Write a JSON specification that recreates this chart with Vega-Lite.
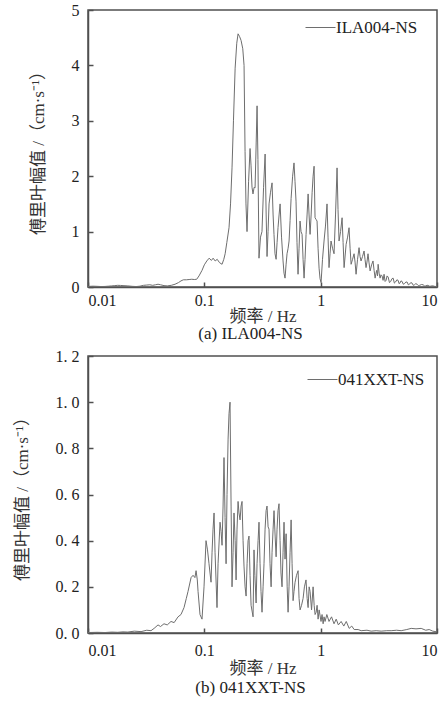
{
  "$schema": "https://vega.github.io/schema/vega-lite/v6.json",
  "padding": {"left": 12, "right": 0, "top": 1, "bottom": 2},
  "spacing": 4,
  "resolve": {"scale": {"color": "independent"}, "legend": {"color": "independent"}},
  "config": {
    "font": "'Liberation Serif', 'Times New Roman', Times, serif",
    "view": {"stroke": "#505050", "strokeWidth": 1.5},
    "axis": {"grid": false, "domainColor": "#505050", "domainWidth": 1.5, "tickColor": "#505050", "tickSize": -5, "tickWidth": 1.5, "labelPadding": 14, "labelFont": "'Liberation Serif', 'Times New Roman', Times, serif", "labelFontSize": 16, "labelColor": "#222", "titleFont": "'Liberation Serif', 'Noto Sans CJK SC', serif", "titleFontSize": 17, "titleFontWeight": "normal", "titleColor": "#333"},
    "axisX": {"labelPadding": 10},
    "legend": {"symbolType": "stroke", "symbolSize": 900, "symbolStrokeWidth": 1, "labelFontSize": 17, "labelFont": "'Liberation Serif', 'Times New Roman', Times, serif", "labelColor": "#222", "padding": 0, "labelOffset": 0}
  },
  "datasets": {
    "a": [
      {"f":0.01,"amp":0.01},{"f":0.011,"amp":0.015},{"f":0.012,"amp":0.012},{"f":0.013,"amp":0.008},{"f":0.014,"amp":0.01},{"f":0.015,"amp":0.015},{"f":0.016,"amp":0.02},{"f":0.017,"amp":0.025},{"f":0.018,"amp":0.03},{"f":0.019,"amp":0.028},{"f":0.02,"amp":0.025},{"f":0.022,"amp":0.02},{"f":0.024,"amp":0.012},{"f":0.026,"amp":0.008},{"f":0.028,"amp":0.015},{"f":0.03,"amp":0.03},{"f":0.032,"amp":0.035},{"f":0.034,"amp":0.04},{"f":0.036,"amp":0.03},{"f":0.038,"amp":0.04},{"f":0.04,"amp":0.05},{"f":0.042,"amp":0.04},{"f":0.045,"amp":0.025},{"f":0.048,"amp":0.02},{"f":0.052,"amp":0.03},{"f":0.056,"amp":0.05},{"f":0.06,"amp":0.08},{"f":0.063,"amp":0.11},{"f":0.066,"amp":0.13},{"f":0.07,"amp":0.13},{"f":0.074,"amp":0.135},{"f":0.078,"amp":0.14},{"f":0.082,"amp":0.135},{"f":0.086,"amp":0.14},{"f":0.09,"amp":0.2},{"f":0.0955,"amp":0.3},{"f":0.1,"amp":0.4},{"f":0.105,"amp":0.47},{"f":0.11,"amp":0.52},{"f":0.115,"amp":0.48},{"f":0.119,"amp":0.52},{"f":0.124,"amp":0.47},{"f":0.129,"amp":0.5},{"f":0.135,"amp":0.44},{"f":0.142,"amp":0.41},{"f":0.147,"amp":0.5},{"f":0.151,"amp":0.6},{"f":0.156,"amp":0.8},{"f":0.163,"amp":1.07},{"f":0.168,"amp":1.5},{"f":0.173,"amp":2.15},{"f":0.178,"amp":3.0},{"f":0.184,"amp":3.95},{"f":0.19,"amp":4.4},{"f":0.195,"amp":4.57},{"f":0.201,"amp":4.52},{"f":0.207,"amp":4.45},{"f":0.214,"amp":4.3},{"f":0.2195,"amp":4.0},{"f":0.2239,"amp":2.45},{"f":0.228,"amp":1.5},{"f":0.2328,"amp":1.0},{"f":0.24,"amp":1.9},{"f":0.2472,"amp":2.5},{"f":0.252,"amp":2.2},{"f":0.257,"amp":1.8},{"f":0.262,"amp":1.68},{"f":0.268,"amp":1.8},{"f":0.273,"amp":1.79},{"f":0.279,"amp":2.6},{"f":0.284,"amp":3.27},{"f":0.289,"amp":2.3},{"f":0.295,"amp":0.52},{"f":0.304,"amp":0.9},{"f":0.313,"amp":1.0},{"f":0.323,"amp":1.8},{"f":0.333,"amp":2.4},{"f":0.34,"amp":1.3},{"f":0.346,"amp":0.55},{"f":0.353,"amp":1.0},{"f":0.36,"amp":1.5},{"f":0.37,"amp":1.7},{"f":0.382,"amp":1.88},{"f":0.39,"amp":1.3},{"f":0.397,"amp":0.95},{"f":0.405,"amp":0.6},{"f":0.414,"amp":0.5},{"f":0.422,"amp":0.8},{"f":0.43,"amp":1.07},{"f":0.439,"amp":1.3},{"f":0.448,"amp":1.5},{"f":0.461,"amp":0.9},{"f":0.475,"amp":0.47},{"f":0.484,"amp":0.25},{"f":0.494,"amp":0.16},{"f":0.504,"amp":0.4},{"f":0.514,"amp":0.6},{"f":0.525,"amp":0.7},{"f":0.535,"amp":0.83},{"f":0.546,"amp":1.2},{"f":0.557,"amp":1.6},{"f":0.574,"amp":2.0},{"f":0.59,"amp":2.24},{"f":0.602,"amp":1.9},{"f":0.614,"amp":1.55},{"f":0.626,"amp":0.8},{"f":0.639,"amp":0.23},{"f":0.652,"amp":0.7},{"f":0.665,"amp":1.19},{"f":0.678,"amp":1.0},{"f":0.692,"amp":0.95},{"f":0.706,"amp":0.5},{"f":0.72,"amp":0.16},{"f":0.734,"amp":0.5},{"f":0.749,"amp":0.95},{"f":0.764,"amp":1.3},{"f":0.78,"amp":1.68},{"f":0.795,"amp":1.3},{"f":0.811,"amp":0.95},{"f":0.828,"amp":1.3},{"f":0.844,"amp":1.7},{"f":0.861,"amp":2.0},{"f":0.878,"amp":2.18},{"f":0.895,"amp":1.25},{"f":0.913,"amp":1.22},{"f":0.931,"amp":1.19},{"f":0.95,"amp":0.7},{"f":0.969,"amp":0.34},{"f":0.988,"amp":0.15},{"f":1.008,"amp":0.08},{"f":1.037,"amp":0.5},{"f":1.069,"amp":0.83},{"f":1.1,"amp":1.1},{"f":1.134,"amp":1.5},{"f":1.157,"amp":0.9},{"f":1.18,"amp":0.35},{"f":1.204,"amp":0.6},{"f":1.228,"amp":0.83},{"f":1.265,"amp":0.7},{"f":1.303,"amp":0.6},{"f":1.342,"amp":1.3},{"f":1.383,"amp":2.15},{"f":1.41,"amp":1.4},{"f":1.439,"amp":0.83},{"f":1.483,"amp":1.0},{"f":1.528,"amp":1.25},{"f":1.559,"amp":0.8},{"f":1.59,"amp":0.35},{"f":1.655,"amp":0.77},{"f":1.704,"amp":0.9},{"f":1.754,"amp":1.07},{"f":1.79,"amp":0.7},{"f":1.827,"amp":0.41},{"f":1.88,"amp":0.5},{"f":1.937,"amp":0.6},{"f":1.975,"amp":0.45},{"f":2.015,"amp":0.23},{"f":2.075,"amp":0.5},{"f":2.138,"amp":0.71},{"f":2.18,"amp":0.55},{"f":2.224,"amp":0.47},{"f":2.29,"amp":0.55},{"f":2.361,"amp":0.65},{"f":2.405,"amp":0.5},{"f":2.455,"amp":0.35},{"f":2.5,"amp":0.45},{"f":2.553,"amp":0.6},{"f":2.6,"amp":0.45},{"f":2.661,"amp":0.29},{"f":2.74,"amp":0.4},{"f":2.818,"amp":0.47},{"f":2.88,"amp":0.3},{"f":2.938,"amp":0.16},{"f":2.99,"amp":0.25},{"f":3.03,"amp":0.3},{"f":3.08,"amp":0.2},{"f":3.119,"amp":0.41},{"f":3.18,"amp":0.25},{"f":3.243,"amp":0.16},{"f":3.3,"amp":0.22},{"f":3.37,"amp":0.2},{"f":3.44,"amp":0.12},{"f":3.508,"amp":0.23},{"f":3.58,"amp":0.1},{"f":3.65,"amp":0.12},{"f":3.72,"amp":0.2},{"f":3.802,"amp":0.18},{"f":3.9,"amp":0.08},{"f":4.0,"amp":0.1},{"f":4.1,"amp":0.15},{"f":4.198,"amp":0.16},{"f":4.3,"amp":0.07},{"f":4.4,"amp":0.09},{"f":4.52,"amp":0.13},{"f":4.634,"amp":0.12},{"f":4.72,"amp":0.06},{"f":4.8,"amp":0.07},{"f":4.9,"amp":0.11},{"f":5.012,"amp":0.1},{"f":5.13,"amp":0.05},{"f":5.25,"amp":0.06},{"f":5.4,"amp":0.09},{"f":5.534,"amp":0.09},{"f":5.67,"amp":0.04},{"f":5.8,"amp":0.05},{"f":5.95,"amp":0.08},{"f":6.109,"amp":0.07},{"f":6.25,"amp":0.03},{"f":6.4,"amp":0.04},{"f":6.57,"amp":0.06},{"f":6.745,"amp":0.05},{"f":6.92,"amp":0.025},{"f":7.1,"amp":0.03},{"f":7.35,"amp":0.045},{"f":7.603,"amp":0.04},{"f":7.8,"amp":0.02},{"f":8.0,"amp":0.02},{"f":8.2,"amp":0.03},{"f":8.395,"amp":0.03},{"f":8.6,"amp":0.015},{"f":8.8,"amp":0.015},{"f":9.05,"amp":0.02},{"f":9.268,"amp":0.02},{"f":9.6,"amp":0.01},{"f":10.0,"amp":0.01}
    ],
    "b": [
      {"f":0.01,"amp":0.002},{"f":0.012,"amp":0.003},{"f":0.014,"amp":0.002},{"f":0.016,"amp":0.004},{"f":0.018,"amp":0.003},{"f":0.02,"amp":0.005},{"f":0.022,"amp":0.004},{"f":0.025,"amp":0.008},{"f":0.0286,"amp":0.006},{"f":0.032,"amp":0.012},{"f":0.0348,"amp":0.01},{"f":0.037,"amp":0.02},{"f":0.04,"amp":0.035},{"f":0.042,"amp":0.028},{"f":0.045,"amp":0.04},{"f":0.048,"amp":0.035},{"f":0.0517,"amp":0.05},{"f":0.055,"amp":0.045},{"f":0.0594,"amp":0.07},{"f":0.063,"amp":0.08},{"f":0.0669,"amp":0.11},{"f":0.07,"amp":0.15},{"f":0.0724,"amp":0.18},{"f":0.0769,"amp":0.24},{"f":0.08,"amp":0.25},{"f":0.083,"amp":0.24},{"f":0.0849,"amp":0.27},{"f":0.087,"amp":0.23},{"f":0.0883,"amp":0.18},{"f":0.0918,"amp":0.08},{"f":0.0955,"amp":0.06},{"f":0.0994,"amp":0.2},{"f":0.1034,"amp":0.4},{"f":0.1065,"amp":0.36},{"f":0.1097,"amp":0.3},{"f":0.1142,"amp":0.22},{"f":0.1165,"amp":0.35},{"f":0.1188,"amp":0.45},{"f":0.1212,"amp":0.52},{"f":0.1236,"amp":0.35},{"f":0.1285,"amp":0.11},{"f":0.1312,"amp":0.3},{"f":0.1365,"amp":0.48},{"f":0.1393,"amp":0.44},{"f":0.142,"amp":0.38},{"f":0.1449,"amp":0.55},{"f":0.1476,"amp":0.76},{"f":0.1507,"amp":0.5},{"f":0.1538,"amp":0.3},{"f":0.1567,"amp":0.6},{"f":0.16,"amp":0.84},{"f":0.163,"amp":0.95},{"f":0.1663,"amp":1.0},{"f":0.1698,"amp":0.55},{"f":0.173,"amp":0.2},{"f":0.1766,"amp":0.35},{"f":0.1799,"amp":0.52},{"f":0.184,"amp":0.4},{"f":0.1875,"amp":0.23},{"f":0.191,"amp":0.45},{"f":0.195,"amp":0.57},{"f":0.1986,"amp":0.52},{"f":0.2028,"amp":0.49},{"f":0.207,"amp":0.55},{"f":0.2109,"amp":0.57},{"f":0.2153,"amp":0.4},{"f":0.2193,"amp":0.29},{"f":0.224,"amp":0.2},{"f":0.2286,"amp":0.16},{"f":0.233,"amp":0.3},{"f":0.2377,"amp":0.4},{"f":0.2421,"amp":0.42},{"f":0.2472,"amp":0.25},{"f":0.2523,"amp":0.12},{"f":0.2624,"amp":0.07},{"f":0.2673,"amp":0.36},{"f":0.272,"amp":0.25},{"f":0.2786,"amp":0.13},{"f":0.2838,"amp":0.3},{"f":0.2897,"amp":0.4},{"f":0.2951,"amp":0.48},{"f":0.3013,"amp":0.3},{"f":0.307,"amp":0.18},{"f":0.3133,"amp":0.09},{"f":0.3199,"amp":0.2},{"f":0.3258,"amp":0.3},{"f":0.3327,"amp":0.45},{"f":0.3396,"amp":0.53},{"f":0.3459,"amp":0.55},{"f":0.3532,"amp":0.46},{"f":0.3597,"amp":0.45},{"f":0.367,"amp":0.3},{"f":0.375,"amp":0.2},{"f":0.382,"amp":0.35},{"f":0.3899,"amp":0.45},{"f":0.3972,"amp":0.53},{"f":0.406,"amp":0.42},{"f":0.414,"amp":0.33},{"f":0.4217,"amp":0.45},{"f":0.43,"amp":0.53},{"f":0.4385,"amp":0.56},{"f":0.4477,"amp":0.4},{"f":0.456,"amp":0.26},{"f":0.4656,"amp":0.2},{"f":0.475,"amp":0.35},{"f":0.4842,"amp":0.48},{"f":0.494,"amp":0.32},{"f":0.5047,"amp":0.43},{"f":0.5152,"amp":0.2},{"f":0.5248,"amp":0.09},{"f":0.5346,"amp":0.2},{"f":0.5458,"amp":0.35},{"f":0.5572,"amp":0.49},{"f":0.568,"amp":0.3},{"f":0.5794,"amp":0.14},{"f":0.59,"amp":0.18},{"f":0.6026,"amp":0.22},{"f":0.62,"amp":0.25},{"f":0.6397,"amp":0.27},{"f":0.652,"amp":0.15},{"f":0.6653,"amp":0.1},{"f":0.685,"amp":0.12},{"f":0.7063,"amp":0.15},{"f":0.725,"amp":0.2},{"f":0.7482,"amp":0.23},{"f":0.765,"amp":0.15},{"f":0.7798,"amp":0.11},{"f":0.7962,"amp":0.2},{"f":0.811,"amp":0.18},{"f":0.835,"amp":0.1},{"f":0.861,"amp":0.2},{"f":0.879,"amp":0.12},{"f":0.8954,"amp":0.08},{"f":0.9141,"amp":0.09},{"f":0.932,"amp":0.12},{"f":0.9506,"amp":0.06},{"f":0.9705,"amp":0.1},{"f":1.007,"amp":0.05},{"f":1.028,"amp":0.08},{"f":1.05,"amp":0.04},{"f":1.069,"amp":0.07},{"f":1.091,"amp":0.05},{"f":1.13,"amp":0.08},{"f":1.18,"amp":0.05},{"f":1.24,"amp":0.07},{"f":1.303,"amp":0.04},{"f":1.36,"amp":0.06},{"f":1.42,"amp":0.035},{"f":1.5,"amp":0.05},{"f":1.58,"amp":0.03},{"f":1.66,"amp":0.05},{"f":1.758,"amp":0.02},{"f":1.85,"amp":0.03},{"f":1.941,"amp":0.015},{"f":2.1,"amp":0.015},{"f":2.228,"amp":0.01},{"f":2.5,"amp":0.012},{"f":2.716,"amp":0.008},{"f":3.0,"amp":0.01},{"f":3.311,"amp":0.008},{"f":3.7,"amp":0.01},{"f":4.036,"amp":0.01},{"f":4.5,"amp":0.012},{"f":4.92,"amp":0.01},{"f":5.5,"amp":0.015},{"f":5.998,"amp":0.02},{"f":6.6,"amp":0.018},{"f":7.311,"amp":0.02},{"f":8.0,"amp":0.012},{"f":8.57,"amp":0.015},{"f":9.2,"amp":0.008},{"f":10.0,"amp":0.005}
    ]
  },
  "vconcat": [
    {
      "width": 349,
      "height": 277,
      "title": {"text": "(a)  ILA004-NS", "orient": "bottom", "anchor": "middle", "dx": -12, "offset": 2, "fontSize": 17, "font": "'Liberation Serif', 'Times New Roman', Times, serif", "fontWeight": "normal", "color": "#222"},
      "data": {"name": "a"},
      "mark": {"type": "line", "strokeWidth": 1},
      "encoding": {
        "x": {"field": "f", "type": "quantitative", "scale": {"type": "log", "domain": [0.01, 10]}, "axis": {"values": [0.01, 0.1, 1, 10], "format": "~g", "title": "频率 / Hz", "titlePadding": 0}},
        "y": {"field": "amp", "type": "quantitative", "scale": {"domain": [0, 5], "nice": false}, "axis": {"values": [0, 1, 2, 3, 4, 5], "title": "傅里叶幅值 /（cm·s⁻¹）", "titlePadding": 24}},
        "color": {"datum": "ILA004-NS", "scale": {"range": ["#6e6e6e"]}, "legend": {"orient": "none", "legendX": 217, "legendY": 2, "title": null}}
      }
    },
    {
      "width": 349,
      "height": 277,
      "title": {"text": "(b)  041XXT-NS", "orient": "bottom", "anchor": "middle", "dx": -12, "offset": 4, "fontSize": 17, "font": "'Liberation Serif', 'Times New Roman', Times, serif", "fontWeight": "normal", "color": "#222"},
      "data": {"name": "b"},
      "mark": {"type": "line", "strokeWidth": 1},
      "encoding": {
        "x": {"field": "f", "type": "quantitative", "scale": {"type": "log", "domain": [0.01, 10]}, "axis": {"values": [0.01, 0.1, 1, 10], "format": "~g", "title": "频率 / Hz", "titlePadding": 2, "labelPadding": 14}},
        "y": {"field": "amp", "type": "quantitative", "scale": {"domain": [0, 1.2], "nice": false}, "axis": {"values": [0, 0.2, 0.4, 0.6, 0.8, 1.0, 1.2], "labelExpr": "replace(format(datum.value, '.1f'), '.', '. ')", "title": "傅里叶幅值 /（cm·s⁻¹）", "titlePadding": 24}},
        "color": {"datum": "041XXT-NS", "scale": {"range": ["#6e6e6e"]}, "legend": {"orient": "none", "legendX": 219, "legendY": 8, "title": null}}
      }
    }
  ]
}
